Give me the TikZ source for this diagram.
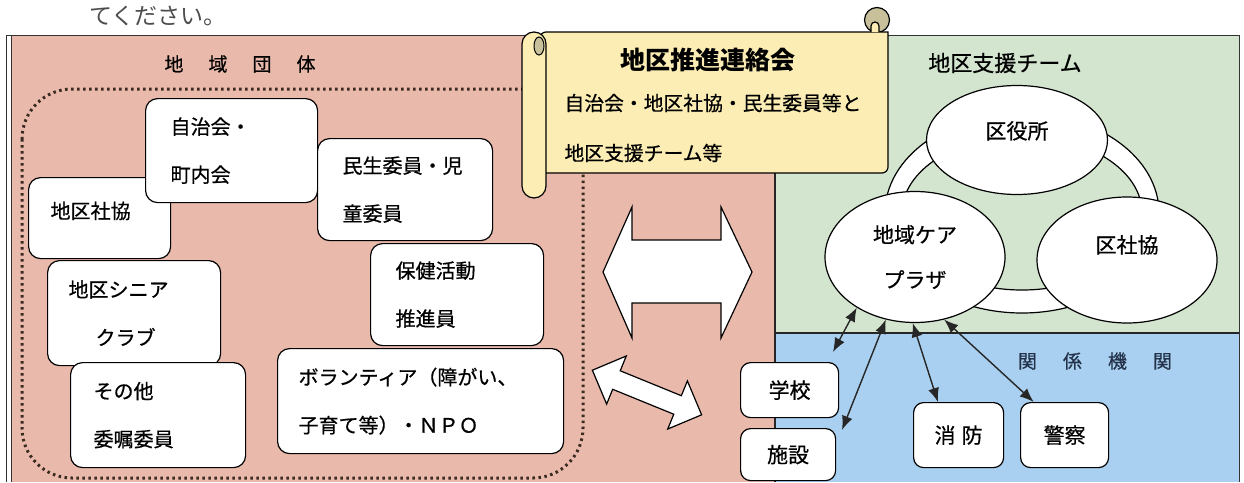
\documentclass[tikz,border=0pt]{standalone}
\usepackage{fontspec}
\setmainfont{Noto Sans CJK JP}
\newfontfamily\jpm{Noto Sans CJK JP}[FakeBold=0.6]
\usetikzlibrary{shapes.geometric,arrows.meta}

\definecolor{pinkbg}{HTML}{E9BAAB}
\definecolor{greenbg}{HTML}{D3E5CF}
\definecolor{bluebg}{HTML}{A9D0F0}
\definecolor{scrollbg}{HTML}{FBEDB3}
\definecolor{curlbg}{HTML}{C7C09A}
\definecolor{dotc}{HTML}{3A2A22}
\definecolor{navy}{HTML}{23324A}

\begin{document}
\begin{tikzpicture}[x=1pt,y=-1pt,
    grp/.style={draw, fill=white, rounded corners=12pt, line width=1.2pt,
      anchor=north west, align=left, inner xsep=0pt,
      font=\jpm\fontsize{20pt}{48pt}\selectfont},
    ell/.style={ellipse, draw, fill=white, line width=1.2pt, inner sep=0pt,
      font=\jpm\fontsize{21pt}{45pt}\selectfont},
    agc/.style={draw, fill=white, rounded corners=10pt, line width=1.2pt,
      anchor=north west, font=\jpm\fontsize{21pt}{21pt}\selectfont},
    sub/.style={anchor=west, font=\jpm\fontsize{19.8pt}{19.8pt}\selectfont},
    link/.style={arrows={Latex[length=14pt,width=11pt]-Latex[length=14pt,width=11pt]},
      line width=1.4pt, draw=black!85},
    fatarrow/.style={draw, fill=white, line width=1.2pt, line join=miter}]
  \useasboundingbox (0,0) rectangle (1244,482);

  % text of the page above the figure
  \node[anchor=west, font=\fontsize{23pt}{23pt}\selectfont, text=black!70] (cont) at (86,16) {てください。};

  % background areas
  \fill[pinkbg] (11,35) rectangle (775,482);
  \fill[greenbg] (775,35) rectangle (1239,333);
  \fill[bluebg] (775,333) rectangle (1239,482);
  \draw[line width=1pt, black!80] (6,482) -- (6,35) -- (1239,35) -- (1239,482);
  \draw[line width=1pt, black!80] (11,482) -- (11,35);
  \draw[line width=1.2pt, black!85] (775,35) -- (775,482);
  \draw[line width=1.2pt, black!85] (775,333) -- (1239,333);

  % group of the local organisations
  \draw[dotc, line width=3pt, dash pattern=on 2.5pt off 3.5pt, rounded corners=50pt]
    (22,89) rectangle (583,478);

  % scroll
  \draw[line width=1.2pt, fill=curlbg] (877,20) circle[radius=12.5pt];
  \filldraw[line width=1.2pt, fill=scrollbg] (540,32) -- (888,32) [rounded corners=6pt] -- (888,173) -- (540,173) -- cycle;
  \filldraw[line width=1.2pt, fill=scrollbg] (871,32) -- (871,26) arc[start angle=180, end angle=0, radius=4pt] -- (879,32);
  \filldraw[line width=1.2pt, fill=scrollbg, rounded corners=12pt] (522,32) rectangle (546,198);
  \filldraw[line width=1pt, fill=curlbg] (539,46) ellipse[x radius=5pt, y radius=9pt];
  \node[font=\bfseries\fontsize{25pt}{25pt}\selectfont] (title) at (708,60) {地区推進連絡会};
  \node[sub] (members) at (561,103) {自治会・地区社協・民生委員等と};
  \node[sub] (team) at (561,153) {地区支援チーム等};

  % local organisations
  \node[font=\jpm\fontsize{19pt}{19pt}\selectfont] (chiiki) at (240,64) {地\hspace{25pt}域\hspace{25pt}団\hspace{25pt}体};
  \node[grp, minimum width=142, minimum height=81, text width=98, text depth=16pt] (shakyo) at (28,177) {地区社協};
  \node[grp, minimum width=172, minimum height=104, text width=122] (jichikai) at (145,98) {自治会・\\町内会};
  \node[grp, minimum width=175, minimum height=102, text width=125] (minsei) at (317,138) {民生委員・児\\童委員};
  \node[grp, minimum width=173, minimum height=102, text width=123] (hoken) at (370,243) {保健活動\\推進員};
  \node[grp, minimum width=173, minimum height=105, text width=131] (senior) at (47,260) {地区シニア\\\hspace*{27pt}クラブ};
  \node[grp, minimum width=175, minimum height=105, text width=129] (sonota) at (70,362) {その他\\委嘱委員};
  \node[grp, minimum width=286, minimum height=105, text width=244] (volunteer) at (277,348) {ボランティア（障がい、\\子育て等）・ＮＰＯ};

  % exchange arrows
  \draw[fatarrow] (603,272) -- (632,207) -- (632,240) -- (721,240) -- (721,207) -- (752,272)
    -- (721,338) -- (721,303) -- (632,303) -- (632,338) -- cycle;
  \begin{scope}[shift={(647,392.5)}, rotate=-22.2]
    \draw[fatarrow] (-59,0) -- (-33,-26) -- (-33,-10) -- (33,-10) -- (33,-26) -- (59,0)
      -- (33,26) -- (33,10) -- (-33,10) -- (-33,26) -- cycle;
  \end{scope}

  % support team
  \node[font=\jpm\fontsize{22pt}{22pt}\selectfont] (support) at (1005,63) {地区支援チーム};
  \filldraw[line width=1.2pt, fill=white, even odd rule]
    (1022,213) ellipse[x radius=137pt, y radius=100pt]
    (1022,213) ellipse[x radius=120pt, y radius=77pt];
  \node[ell, minimum width=181, minimum height=109, text depth=20pt] (kuyakusho) at (1017,140) {区役所\hspace{30pt}};
  \node[ell, minimum width=180, minimum height=131, align=center] (plaza) at (915,257) {地域ケア\\プラザ};
  \node[ell, minimum width=180, minimum height=126, text depth=32pt] (kushakyo) at (1127,260) {区社協\hspace{34pt}};

  % related agencies
  \node[font=\jpm\fontsize{19pt}{19pt}\selectfont, text=navy] (kankei) at (1095,361) {関\hspace{26pt}係\hspace{26pt}機\hspace{26pt}関};
  \node[agc, minimum width=98, minimum height=55] (school) at (740,362) {学校};
  \node[agc, minimum width=95, minimum height=52] (facility) at (740,428) {施設};
  \node[agc, minimum width=90, minimum height=65] (shobo) at (913,402) {消\hspace{6pt}防};
  \node[agc, minimum width=88, minimum height=65] (keisatsu) at (1020,402) {警察};

  \coordinate (toschool) at (833,352);
  \coordinate (tofacility) at (842,430);
  \draw[link] (plaza.221) -- (toschool);
  \draw[link] (plaza.245) -- (tofacility);
  \draw[link] (plaza.268) -- (shobo.122);
  \draw[link] (plaza.295) -- (keisatsu.133);
\end{tikzpicture}
\end{document}
